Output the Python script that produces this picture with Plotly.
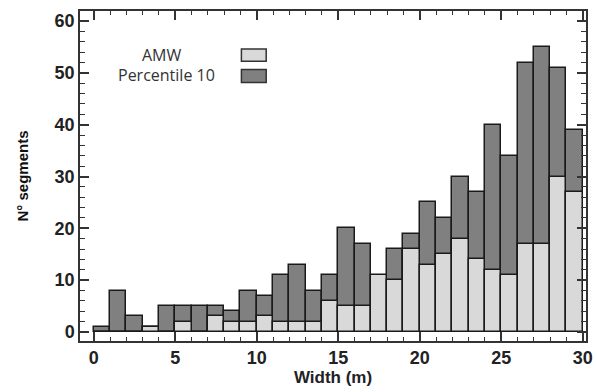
import plotly.graph_objects as go

# Bin centres (width 1 m bins from 0 to 30)
bin_centers = [0.5, 1.5, 2.5, 3.5, 4.5, 5.5, 6.5, 7.5, 8.5, 9.5,
               10.5, 11.5, 12.5, 13.5, 14.5, 15.5, 16.5, 17.5, 18.5, 19.5,
               20.5, 21.5, 22.5, 23.5, 24.5, 25.5, 26.5, 27.5, 28.5, 29.5]
amw = [0, 0, 0, 1, 0, 2, 0, 3, 2, 2,
       3, 2, 2, 2, 6, 5, 5, 11, 10, 16,
       13, 15, 18, 14, 12, 11, 17, 17, 30, 27]
percentile10 = [1, 8, 3, 1, 5, 5, 5, 5, 4, 8,
                7, 11, 13, 8, 11, 20, 17, 0, 16, 19,
                25, 22, 30, 27, 40, 34, 52, 55, 51, 39]
x_ticks = [0, 5, 10, 15, 20, 25, 30]
y_ticks = [0, 10, 20, 30, 40, 50, 60]

LIGHT = "#d9d9d9"
DARK = "#808080"
EDGE = "#1a1a1a"
TICKFAM = "Liberation Sans Narrow, Liberation Sans, Arial"

fig = go.Figure()
fig.add_trace(go.Bar(x=bin_centers, y=percentile10, width=1, name="Percentile 10",
                     marker=dict(color=DARK, line=dict(color=EDGE, width=1.5)),
                     showlegend=False))
fig.add_trace(go.Bar(x=bin_centers, y=amw, width=1, name="AMW",
                     marker=dict(color=LIGHT, line=dict(color=EDGE, width=1.5)),
                     showlegend=False))

axis_common = dict(showline=True, linecolor="#333333", linewidth=1.5, mirror="ticks",
                   ticks="inside", tickcolor="#333333", tickwidth=1.5, ticklen=9,
                   showgrid=False, zeroline=False, ticklabeloverflow="allow",
                   tickfont=dict(family=TICKFAM, size=18, color="#222222", weight="bold"))

fig.update_layout(
    width=597, height=392,
    margin=dict(l=80, r=4, t=11, b=51),
    plot_bgcolor="white", paper_bgcolor="white",
    barmode="overlay", bargap=0,
    xaxis=dict(range=[-0.845, 30.2], tickvals=x_ticks,
               minor=dict(dtick=1, tick0=0, ticks="inside", ticklen=4, tickcolor="#333333", tickwidth=1.2),
               title=dict(text="Width (m)", standoff=4,
                          font=dict(family="Liberation Sans", size=17, color="#222222", weight="bold")),
               **axis_common),
    yaxis=dict(range=[-1.74, 61.94], tickvals=y_ticks,
               minor=dict(dtick=2, tick0=0, ticks="inside", ticklen=5, tickcolor="#333333", tickwidth=1.2),
               title=dict(text="N° segments", standoff=22,
                          font=dict(family="Liberation Sans", size=15, color="#111111", weight="bold")),
               **axis_common),
)

# Legend (text + swatches)
legend_font = dict(family="Open Sans", size=16, color="#333333")
fig.add_annotation(xref="paper", yref="paper", x=0.163, y=0.867, text="AMW",
                   showarrow=False, font=legend_font, xanchor="center", yanchor="middle")
fig.add_annotation(xref="paper", yref="paper", x=0.17, y=0.806, text="Percentile 10",
                   showarrow=False, font=legend_font, xanchor="center", yanchor="middle")
fig.add_shape(type="rect", xref="paper", yref="paper", x0=0.319, x1=0.368, y0=0.848, y1=0.885,
              fillcolor=LIGHT, line=dict(color="#333333", width=1.5))
fig.add_shape(type="rect", xref="paper", yref="paper", x0=0.319, x1=0.368, y0=0.783, y1=0.823,
              fillcolor=DARK, line=dict(color="#333333", width=1.5))

fig.write_html("out.html")
